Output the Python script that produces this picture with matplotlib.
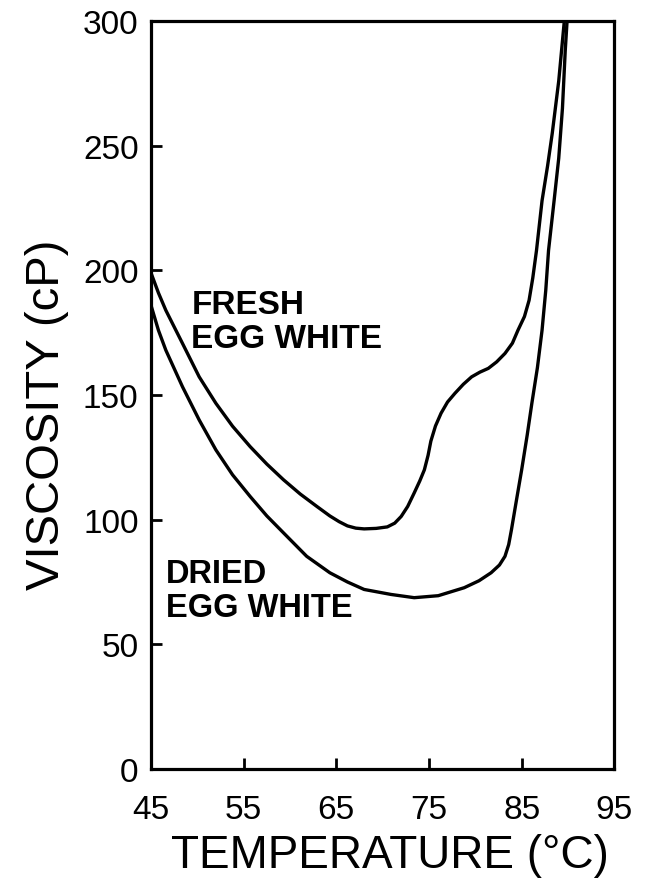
import matplotlib
matplotlib.use("Agg")
import matplotlib.pyplot as plt

plt.rcParams['font.family'] = ['Liberation Sans', 'DejaVu Sans']

# Data
fresh_temp = [45.0, 45.8, 46.6, 48.4, 50.2, 52.0, 53.8, 55.7, 57.5, 59.3, 61.1, 62.9,
              64.3, 65.3, 66.2, 67.1, 68.0, 69.3, 70.5, 71.3, 72.0, 72.7, 73.4, 74.0,
              74.5, 74.9, 75.2, 75.7, 76.3, 77.0, 77.8, 78.7, 79.6, 80.5, 81.4, 82.3,
              83.2, 84.0, 84.6, 85.3, 85.8, 86.2, 86.6, 87.2, 87.8, 88.3, 89.0, 89.6]
fresh_visc = [199, 191, 184, 170.7, 157.3, 146.7, 137.5, 129.3, 122.3, 116, 110.3, 105.3,
              101.5, 99.2, 97.5, 96.6, 96.3, 96.5, 97.1, 98.6, 101.3, 105.3, 110.7, 115.5,
              120, 125.8, 131.5, 137.6, 142.7, 147.2, 150.7, 154.3, 157.3, 159.2, 160.7, 163.3,
              166.7, 170.8, 176, 181.5, 188, 197, 208, 228, 242, 255, 276, 300]

dried_temp = [45.0, 45.8, 46.6, 48.4, 50.2, 52.0, 53.8, 55.7, 57.5, 59.3, 61.8, 64.3,
              66.2, 68.0, 70.9, 73.4, 76.0, 78.8, 80.4, 81.7, 82.6, 83.2, 83.6, 83.9,
              84.4, 85.0, 85.6, 86.1, 86.7, 87.2, 87.6, 87.9, 88.5, 89.0, 89.4, 89.7, 89.9]
dried_visc = [186, 176, 168, 153.3, 140, 128, 118, 109.3, 101.5, 94.7, 85.3, 78.7,
              75, 72, 70, 68.7, 69.5, 72.7, 75.5, 78.7, 81.8, 85.3, 90, 96,
              107, 120, 134, 146.7, 161, 176, 192, 208, 228, 245, 265, 288, 300]

xticks = [45, 55, 65, 75, 85, 95]
yticks = [0, 50, 100, 150, 200, 250, 300]

fig = plt.figure(figsize=(6.6, 8.87), dpi=100)
ax = fig.add_axes([0.2288, 0.132, 0.702, 0.843])

ax.plot(fresh_temp, fresh_visc, color='black', lw=2.4, solid_capstyle='round',
        solid_joinstyle='round')
ax.plot(dried_temp, dried_visc, color='black', lw=2.4, solid_capstyle='round',
        solid_joinstyle='round')

ax.set_xlim(45, 95)
ax.set_ylim(0, 300)
ax.set_xticks(xticks)
ax.set_yticks(yticks)
ax.tick_params(axis='both', direction='in', length=8, width=2, labelsize=24,
               top=False, right=False)
ax.tick_params(axis='x', pad=18)
ax.tick_params(axis='y', pad=9)
for s in ax.spines.values():
    s.set_linewidth(2.3)

ax.set_xlabel('TEMPERATURE (°C)', fontsize=33)
ax.xaxis.set_label_coords(0.515, -0.086)
ax.set_ylabel('VISCOSITY (cP)', fontsize=34)
ax.yaxis.set_label_coords(-0.178, 0.475)

ax.text(49.35, 179.4, 'FRESH\nEGG WHITE', fontsize=24, fontweight='bold',
        ha='left', va='center', linespacing=1.12)
ax.text(46.6, 71.5, 'DRIED\nEGG WHITE', fontsize=23.5, fontweight='bold',
        ha='left', va='center', linespacing=1.12)

fig.savefig('out.png', dpi=100)
